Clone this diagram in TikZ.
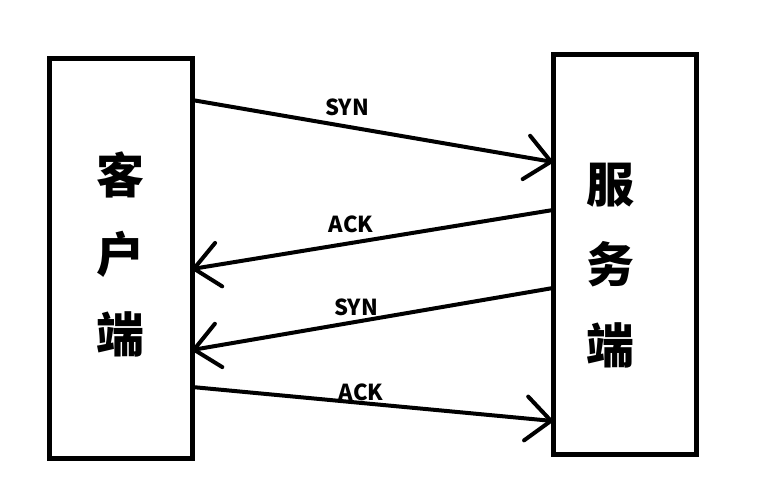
\documentclass[tikz,border=0pt]{standalone}
\usepackage{fontspec}
\newfontfamily\cjk{Noto Sans CJK SC}
\usetikzlibrary{arrows.meta}
\begin{document}
\begin{tikzpicture}[x=1pt,y=-1pt,
  box/.style={draw=black,line width=5pt,minimum width=143pt,minimum height=399pt,inner sep=0pt,outer sep=0pt},
  big/.style={font=\cjk\bfseries\fontsize{48}{50}\selectfont,inner sep=0pt},
  lbl/.style={font=\cjk\bfseries\fontsize{22}{24}\selectfont,inner sep=0pt},
  msg/.style={line width=4pt,-{Straight Barb[length=25pt,width=44pt,round]}}]
\useasboundingbox (0,0) rectangle (783,492);
\node[box] (cl) at (120.5,258.5) {};
\node[box] (sv) at (625,254.5) {};
\node[big] (c1) at (120,175) {客};
\node[big] (c2) at (120,254) {户};
\node[big] (c3) at (120,334) {端};
\node[big] (s1) at (610,185) {服};
\node[big] (s2) at (610,264) {务};
\node[big] (s3) at (610,345) {端};
\coordinate (a1s) at (192,100);
\coordinate (a1e) at (553,162);
\coordinate (a2s) at (553,210);
\coordinate (a2e) at (192,269);
\coordinate (a3s) at (553,288);
\coordinate (a3e) at (192,350);
\coordinate (a4s) at (192,387);
\coordinate (a4e) at (553,421);
\draw[msg] (a1s) -- (a1e);
\draw[msg] (a2s) -- (a2e);
\draw[msg] (a3s) -- (a3e);
\draw[msg] (a4s) -- (a4e);
\node[lbl] (l1) at (347,107) {SYN};
\node[lbl] (l2) at (351,224) {ACK};
\node[lbl] (l3) at (356,307) {SYN};
\node[lbl] (l4) at (361,392) {ACK};
\end{tikzpicture}
\end{document}
